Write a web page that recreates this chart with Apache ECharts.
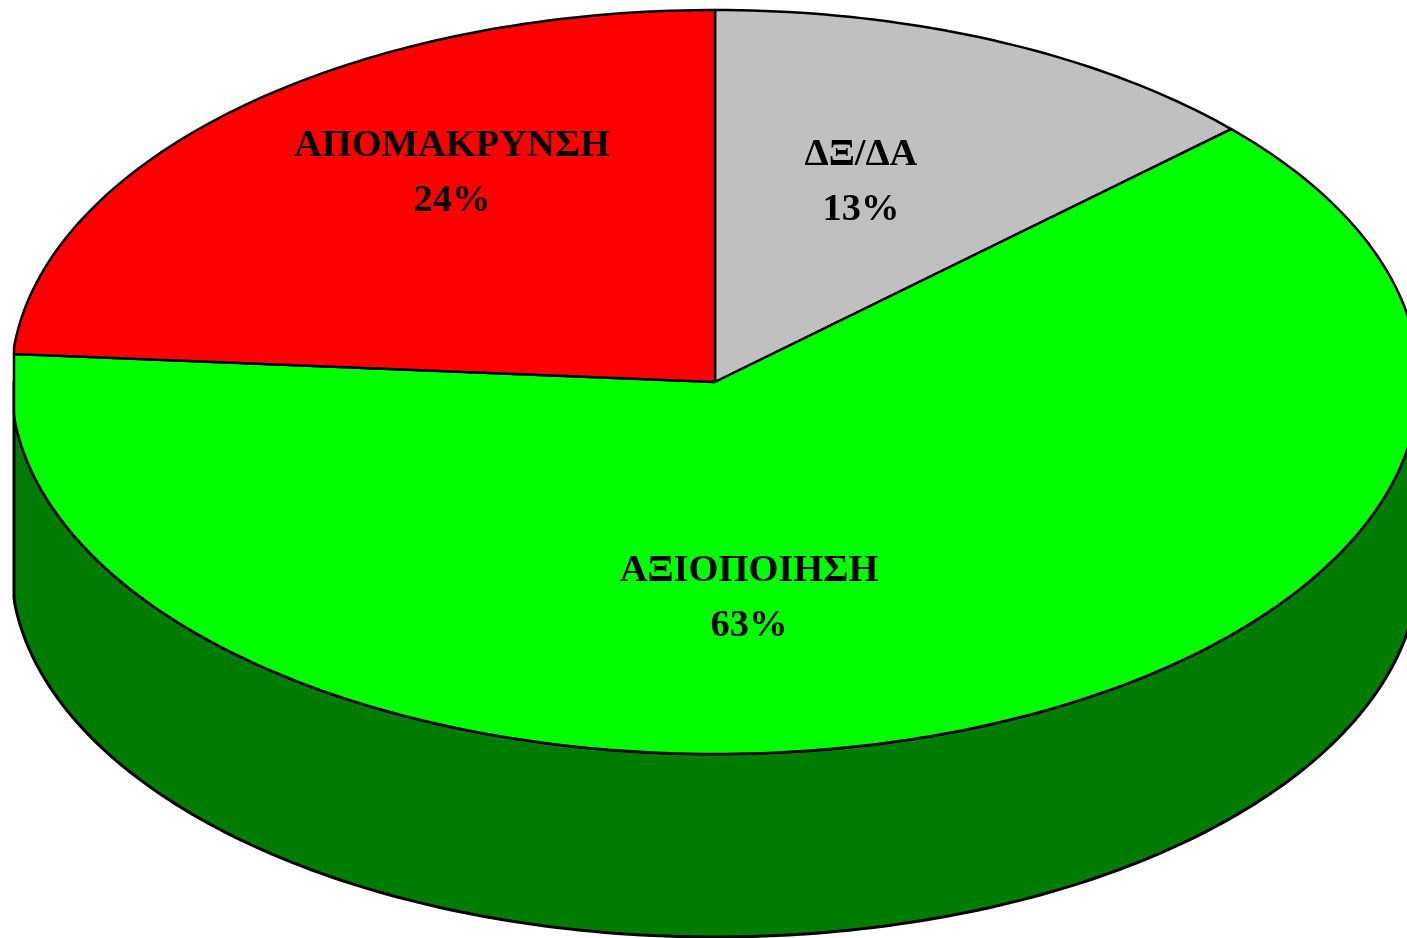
<!DOCTYPE html>
<html>
<head>
<meta charset="utf-8">
<title>Pie</title>
<style>
  html, body { margin: 0; padding: 0; background: #fff; overflow: hidden; }
  #chart { width: 1407px; height: 938px; }
</style>
<script src="https://cdn.jsdelivr.net/npm/echarts@6/dist/echarts.min.js"></script>
</head>
<body>
<div id="chart"></div>
<script>
// slices, clockwise from 12 o'clock
const categories = ['ΔΞ/ΔΑ', 'ΑΞΙΟΠΟΙΗΣΗ', 'ΑΠΟΜΑΚΡΥΝΣΗ'];
const values = [13.1, 63.1, 23.8];
const percentLabels = ['13%', '63%', '24%'];
const sliceColors = ['#C0C0C0', '#00FF00', '#FF0000'];
const labelX = [861, 749, 452];
const labelY = [155, 571, 146];

const CX = 715, CY = 382, RX = 704, RY = 372, DEPTH = 183;
const LEFT_EDGE = 14; // the reference cuts the disc off flat on the left
const SIDE_COLOR = '#007C00';
const total = values.reduce((a, b) => a + b, 0);

// point on the tilted disc, angle in degrees clockwise from the top
function rimPoint(deg, dy = 0) {
  const t = deg * Math.PI / 180;
  return [Math.max(LEFT_EDGE, CX + RX * Math.sin(t)), CY - RY * Math.cos(t) + dy];
}

function arcPoints(from, to, dy = 0) {
  const pts = [];
  const step = to >= from ? 1 : -1;
  for (let d = from; step > 0 ? d < to : d > to; d += step) {
    pts.push(rimPoint(d, dy));
  }
  pts.push(rimPoint(to, dy));
  return pts;
}

function renderSide() {
  return {
    type: 'polygon',
    shape: { points: arcPoints(90, 270).concat(arcPoints(270, 90, DEPTH)) },
    style: { fill: SIDE_COLOR, stroke: '#000', lineWidth: 3, lineJoin: 'round' }
  };
}

function renderSlice(params, api) {
  const i = params.dataIndex;
  let before = 0;
  for (let k = 0; k < i; k++) before += values[k];
  const start = before / total * 360;
  const end = start + api.value(0) / total * 360;
  const children = [];
  if (i === 0) children.push(renderSide());
  children.push({
    type: 'polygon',
    shape: { points: [[CX, CY]].concat(arcPoints(start, end)) },
    style: { fill: sliceColors[i], stroke: '#000', lineWidth: 2.5, lineJoin: 'round' }
  });
  return { type: 'group', children: children };
}

function renderLabel(params, api) {
  const i = params.dataIndex;
  const base = { font: 'bold 38.5px "Liberation Serif", "Times New Roman", serif', fill: '#000', align: 'center', verticalAlign: 'middle' };
  return {
    type: 'group',
    children: [
      { type: 'text', style: Object.assign({ text: categories[i], x: labelX[i], y: labelY[i] }, base) },
      { type: 'text', style: Object.assign({ text: percentLabels[i], x: labelX[i], y: labelY[i] + 55 }, base) }
    ]
  };
}

const chart = echarts.init(document.getElementById('chart'), null, { renderer: 'canvas' });
chart.setOption({
  backgroundColor: '#fff',
  animation: false,
  series: [
    { type: 'custom', coordinateSystem: 'none', clip: false, z: 1, data: values.map(v => [v]), renderItem: renderSlice },
    { type: 'custom', coordinateSystem: 'none', clip: false, z: 2, data: values.map(v => [v]), renderItem: renderLabel }
  ]
});
</script>
</body>
</html>
